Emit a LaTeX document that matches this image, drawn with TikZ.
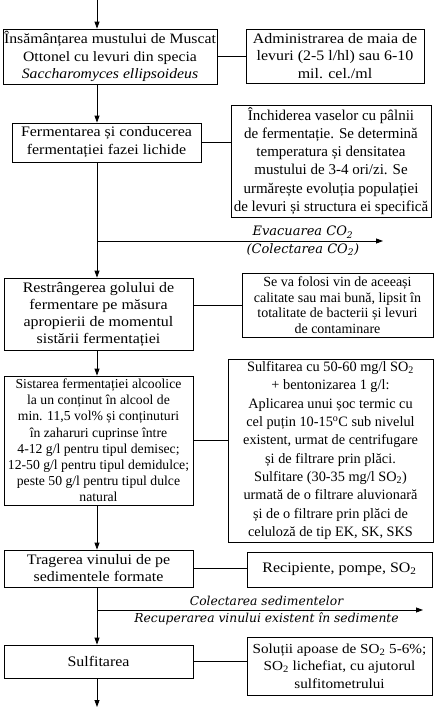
\documentclass[tikz,border=0pt]{standalone}
\usepackage{fontspec}
\setmainfont{Liberation Serif}
\newfontfamily\wfont[FakeStretch=1.1]{Liberation Serif}
\newfontfamily\lblfont{DejaVu Serif}
\usetikzlibrary{arrows.meta}
\tikzset{
  box/.style={draw, line width=0.8pt, align=center, inner sep=1pt, font=\fontsize{14}{16.5}\selectfont},
  arr/.style={line width=0.8pt, -{Triangle[width=5pt,length=7pt]}},
  ln/.style={line width=0.8pt},
  lbl/.style={font=\lblfont\itshape\fontsize{12.3}{13}\selectfont, inner sep=0pt, anchor=center}
}
\begin{document}
\begin{tikzpicture}[x=1pt,y=-1pt]
\useasboundingbox (0,0) rectangle (437,707);
\coordinate (top) at (97,0);
\coordinate (bot) at (97,707);
\coordinate (evj) at (97,241);
\coordinate (eve) at (383,241);
\coordinate (cj) at (97,610);
\coordinate (ce) at (423,610);

\node[box, minimum width=210pt, minimum height=55pt, font=\wfont\fontsize{14.3}{17.5}\selectfont] (B1) at (110,56.5)
 {Însămânțarea mustului de Muscat\\ Ottonel cu levuri din specia\\ \textit{Saccharomyces ellipsoideus}};
\node[box, minimum width=178pt, minimum height=54pt, font=\wfont\fontsize{14.5}{17.5}\selectfont] (R1) at (335,56)
 {Administrarea de maia de\\ levuri (2-5 l/hl) sau 6-10\\ mil. cel./ml};

\node[box, minimum width=189pt, minimum height=39pt, font=\wfont\fontsize{14.5}{18}\selectfont] (B2) at (106.5,142.5)
 {Fermentarea și conducerea\\ fermentației fazei lichide};
\node[box, minimum width=200pt, minimum height=112pt, font=\fontsize{15}{18.3}\selectfont] (R2) at (331,161)
 {Închiderea vaselor cu pâlnii\\ de fermentație. Se determină\\ temperatura și densitatea\\ mustului de 3-4 ori/zi. Se\\ urmărește evoluția populației\\ de levuri și structura ei specifică};

\node[box, minimum width=189pt, minimum height=72pt, font=\wfont\fontsize{14.5}{17}\selectfont] (B3) at (98.5,314)
 {Restrângerea golului de\\ fermentare pe măsura\\ apropierii de momentul\\ sistării fermentației};
\node[box, minimum width=191pt, minimum height=64pt, font=\fontsize{14}{15.5}\selectfont] (R3) at (337.5,305)
 {Se va folosi vin de aceeași\\ calitate sau mai bună, lipsit în\\ totalitate de bacterii și levuri\\ de contaminare};

\node[box, minimum width=189pt, minimum height=129pt, font=\fontsize{13.7}{16.2}\selectfont] (B4) at (98.5,440.5)
 {Sistarea fermentației alcoolice\\ la un conținut în alcool de\\ min. 11,5 vol\% și conținuturi\\ în zaharuri cuprinse între\\ 4-12 g/l pentru tipul demisec;\\ 12-50 g/l pentru tipul demidulce;\\ peste 50 g/l pentru tipul dulce\\ natural};
\node[box, minimum width=205pt, minimum height=183pt, font=\fontsize{14.3}{18.3}\selectfont] (R4) at (330.5,450.5)
 {Sulfitarea cu 50-60 mg/l SO\textsubscript{2}\\ + bentonizarea 1 g/l:\\ Aplicarea unui șoc termic cu\\ cel puțin 10-15\textsuperscript{o}C sub nivelul\\ existent, urmat de centrifugare\\ și de filtrare prin plăci.\\ Sulfitare (30-35 mg/l SO\textsubscript{2})\\ urmată de o filtrare aluvionară\\ și de o filtrare prin plăci de\\ celuloză de tip EK, SK, SKS};

\node[box, minimum width=189pt, minimum height=37pt, font=\wfont\fontsize{14.5}{17}\selectfont] (B5) at (98.5,568.5)
 {Tragerea vinului de pe\\ sedimentele formate};
\node[box, minimum width=185pt, minimum height=35pt, font=\wfont\fontsize{14.5}{17}\selectfont] (R5) at (339.5,569.5)
 {Recipiente, pompe, SO\textsubscript{2}};

\node[box, minimum width=189pt, minimum height=33pt, font=\wfont\fontsize{14.5}{17}\selectfont] (B6) at (98.5,661.5)
 {Sulfitarea};
\node[box, minimum width=185pt, minimum height=58pt, font=\wfont\fontsize{13.8}{17.5}\selectfont] (R6) at (339.5,666)
 {Soluții apoase de SO\textsubscript{2} 5-6\%;\\ SO\textsubscript{2} lichefiat, cu ajutorul\\ sulfitometrului};

% main flow
\draw[arr] (top) -- (B1.north -| top);
\draw[arr] (B1.south -| top) -- (B2.north -| top);
\draw[arr] (B2.south -| top) -- (B3.north -| top);
\draw[arr] (B3.south -| top) -- (B4.north -| top);
\draw[arr] (B4.south -| top) -- (B5.north -| top);
\draw[arr] (B5.south -| top) -- (B6.north -| top);
\draw[arr] (B6.south -| top) -- (bot);

% side connections
\draw[ln] (B1.east) -- (B1.east -| R1.west);
\draw[ln] (B2.east) -- (B2.east -| R2.west);
\draw[ln] (R3.west -| B3.east) -- (R3.west);
\draw[ln] (B4.east) -- (B4.east -| R4.west);
\draw[ln] (B5.east) -- (B5.east -| R5.west);
\draw[ln] (B6.east) -- (B6.east -| R6.west);

% branches
\draw[arr] (evj) -- (eve)
  node[lbl, pos=0.72, yshift=9pt, font=\lblfont\itshape\fontsize{13}{14}\selectfont] (ev1) {Evacuarea CO\textsubscript{2}}
  node[lbl, pos=0.72, yshift=-8.5pt, font=\lblfont\itshape\fontsize{13}{14}\selectfont] (ev2) {(Colectarea CO\textsubscript{2})};
\draw[arr] (cj) -- (ce)
  node[lbl, pos=0.52, yshift=9pt] (c1) {Colectarea sedimentelor}
  node[lbl, pos=0.52, yshift=-9pt] (c2) {Recuperarea vinului existent în sedimente};
\end{tikzpicture}
\end{document}
